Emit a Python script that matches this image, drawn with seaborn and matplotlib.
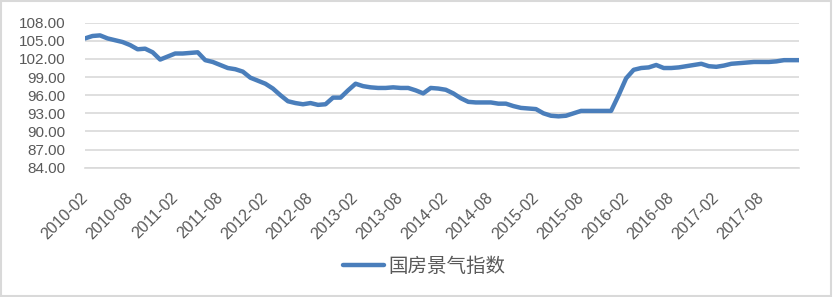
import matplotlib
matplotlib.use("Agg")
import matplotlib.pyplot as plt
import matplotlib.transforms as mtransforms
from matplotlib.patches import Rectangle
from matplotlib.lines import Line2D
import seaborn as sns
import pandas as pd

months = pd.date_range("2010-02-01", "2018-01-01", freq="MS").strftime("%Y-%m").tolist()
values = [
    105.4, 105.8, 105.9, 105.4, 105.1, 104.8, 104.3, 103.6, 103.7, 103.1,
    101.9, 102.4, 102.9, 102.9, 103.0, 103.1, 101.8, 101.5, 101.0, 100.5,
    100.3, 99.9, 98.9, 98.4, 97.9, 97.1, 96.0, 95.0, 94.7, 94.5,
    94.7, 94.4, 94.5, 95.6, 95.6, 96.8, 97.9, 97.5, 97.3, 97.2,
    97.2, 97.3, 97.2, 97.2, 96.8, 96.3, 97.2, 97.1, 96.9, 96.3,
    95.5, 94.9, 94.8, 94.8, 94.8, 94.6, 94.6, 94.2, 93.9, 93.8,
    93.7, 93.0, 92.6, 92.5, 92.6, 93.0, 93.4, 93.4, 93.4, 93.4,
    93.4, 96.0, 98.8, 100.2, 100.5, 100.6, 101.0, 100.5, 100.5, 100.6,
    100.8, 101.0, 101.2, 100.8, 100.7, 100.9, 101.2, 101.3, 101.4, 101.5,
    101.5, 101.5, 101.6, 101.8, 101.8, 101.8,
]
series_name = "国房景气指数"
y_ticks = [84, 87, 90, 93, 96, 99, 102, 105, 108]
tick_labels = months[::6]

df = pd.DataFrame({"idx": range(len(months)), "month": months, "value": values})

sns.set_theme(style="white")
plt.rcParams["font.family"] = ["Liberation Sans", "DejaVu Sans"]

W, H = 833, 297
fig = plt.figure(figsize=(W / 100, H / 100), dpi=100)
ax = fig.add_axes([85 / W, 1 - 167.7 / H, (799 - 85) / W, (167.7 - 22.7) / H])

line_color = "#4A7EBB"
text_color = "#595959"
grid_color = "#D9D9D9"

sns.lineplot(data=df, x="idx", y="value", ax=ax, color=line_color,
             linewidth=3.2, legend=False)
ax.lines[0].set_solid_capstyle("round")
ax.lines[0].set_solid_joinstyle("round")

ax.set_xlim(0, len(months) - 1)
ax.set_ylim(84, 108)
ax.set_yticks(y_ticks)
ax.set_yticklabels([f"{v:.2f}" for v in y_ticks], fontsize=11, color=text_color)
ax.yaxis.grid(True, color=grid_color, linewidth=1.2)
ax.set_axisbelow(True)

ax.set_xticks(list(range(0, len(months), 6)))
ax.set_xticklabels(tick_labels, rotation=45, ha="right", va="center",
                   rotation_mode="anchor", fontsize=11.5, color=text_color)
offset = mtransforms.ScaledTranslation(2 / 100, 0, fig.dpi_scale_trans)
for lab in ax.get_xticklabels():
    lab.set_transform(lab.get_transform() + offset)

ax.tick_params(axis="y", length=0, pad=14)
ax.tick_params(axis="x", length=5, width=1, color=grid_color, direction="out", pad=15)

for s in ["top", "right", "left"]:
    ax.spines[s].set_visible(False)
ax.spines["bottom"].set_color(grid_color)
ax.spines["bottom"].set_linewidth(1.2)
ax.set_xlabel("")
ax.set_ylabel("")

handle = Line2D([], [], color=line_color, linewidth=3.2, solid_capstyle="round")
fig.legend([handle], [series_name], loc="center", bbox_to_anchor=(424 / W, 1 - 266 / H),
           frameon=False, handlelength=2.1, handletextpad=0.2,
           prop={"family": ["Noto Sans CJK SC", "DejaVu Sans"], "size": 14},
           labelcolor=text_color)

fig.patches.append(Rectangle((0.001, 0.002), 0.997, 0.995, transform=fig.transFigure,
                             fill=False, edgecolor=grid_color, linewidth=1.5))

fig.savefig("out.png", dpi=100)
